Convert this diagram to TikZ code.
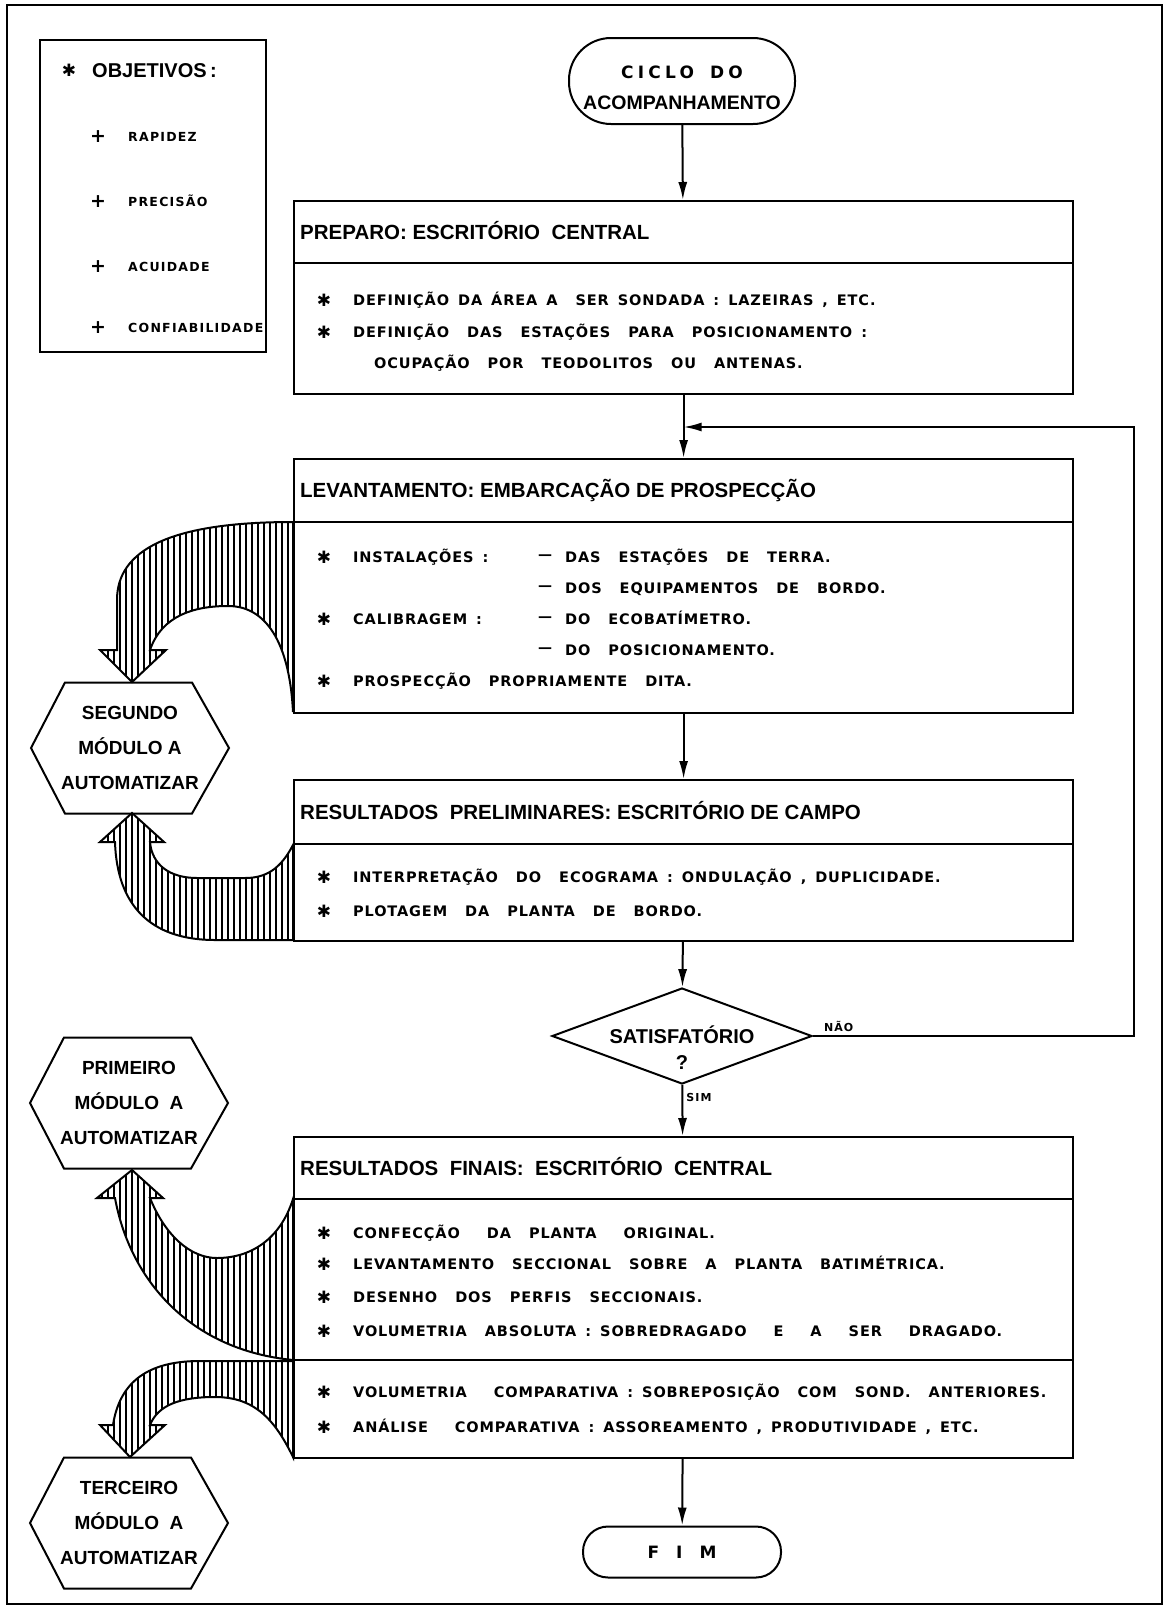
\documentclass[tikz,border=0pt]{standalone}
\usepackage{fontspec}
\setmainfont{Liberation Sans}
\newfontfamily\stencil[LetterSpace=6]{DejaVu Sans}
\newfontfamily\stencilsmall[LetterSpace=10]{DejaVu Sans}
\newfontfamily\stencilwide[LetterSpace=25]{DejaVu Sans}
\newfontfamily\dingfont{DejaVu Sans}
\usepackage{tikz}
\usetikzlibrary{shapes.geometric}
\usetikzlibrary{arrows.meta}
\usetikzlibrary{patterns.meta}
\usetikzlibrary{calc}

\tikzset{
  stagebox/.style={draw, line width=2.2pt, inner sep=0pt, anchor=north west, minimum width=779pt},
  stagetitle/.style={anchor=west, inner sep=0pt, text height=14.5pt, text depth=0pt, font=\fontsize{20.5}{24}\selectfont\bfseries},
  itemtext/.style={anchor=west, inner sep=0pt, text height=10.5pt, text depth=0pt, font=\fontsize{14.5}{16}\stencil\bfseries, execute at begin node={\spaceskip=9pt\relax}},
  bullet/.style={inner sep=0pt, font=\fontsize{17}{17}\dingfont},
  dashmark/.style={inner sep=0pt, font=\fontsize{14}{16}\stencil\bfseries},
  goalhead/.style={anchor=west, inner sep=0pt, text height=14pt, text depth=0pt, font=\fontsize{20}{24}\selectfont\bfseries},
  goalitem/.style={anchor=west, inner sep=0pt, text height=9.5pt, text depth=0pt, font=\fontsize{12.5}{14}\stencilsmall\bfseries},
  plusmark/.style={inner sep=0pt, font=\fontsize{19}{19}\stencil\bfseries},
  hexlabel/.style={align=center, inner sep=0pt, font=\fontsize{19}{35}\selectfont\bfseries},
  branchlabel/.style={inner sep=1pt, font=\fontsize{11}{13}\stencilsmall\bfseries},
  flow/.style={line width=2pt, -{Latex[length=18pt,width=9pt]}},
  hatched/.style={line width=2pt, pattern={Lines[angle=90,distance=6pt,line width=1.3pt]}},
  outline/.style={line width=2pt}
}

\begin{document}
\begin{tikzpicture}[x=1pt, y=-1pt]
\useasboundingbox (0,0) rectangle (1165,1609);
\draw[outline] (7,5) rectangle (1162,1604);

\def\hexw{99}
\def\hexh{65.5}
\def\hexcut{34}

\node[draw, outline, anchor=north west, minimum width=226pt, minimum height=312pt] (goals) at (39,39) {};
\node[bullet] (goalstar) at (69,70) {✱};
\node[goalhead] (goalhead) at (92,70) {OBJETIVOS\,:};
\node[plusmark] (plusA) at (98,137) {+};
\node[goalitem] (goalA) at (128,137) {RAPIDEZ};
\node[plusmark] (plusB) at (98,202) {+};
\node[goalitem] (goalB) at (128,202) {PRECISÃO};
\node[plusmark] (plusC) at (98,267) {+};
\node[goalitem] (goalC) at (128,267) {ACUIDADE};
\node[plusmark] (plusD) at (98,328) {+};
\node[goalitem] (goalD) at (128,328) {CONFIABILIDADE};

\node[draw, outline, rounded corners=42pt, minimum width=226pt, minimum height=86pt] (start) at (682,81) {};
\node[inner sep=0pt, font=\fontsize{17}{20}\stencilwide\bfseries] (startA) at (682,72) {CICLO\hspace{16pt}DO};
\node[inner sep=0pt, font=\fontsize{19.5}{22}\selectfont\bfseries] (startB) at (682,103) {ACOMPANHAMENTO};

\node[stagebox, minimum height=193pt] (prep) at (293,200) {};
\draw[outline] (293,263) -- (1072,263);
\node[stagetitle] (preptitle) at (300,232) {PREPARO: ESCRITÓRIO\ \ CENTRAL};
\node[bullet] (prepstarA) at (324,300) {✱};
\node[itemtext] (prepA) at (353,300) {DEFINIÇÃO DA ÁREA A\ \ SER SONDADA : LAZEIRAS , ETC.};
\node[bullet] (prepstarB) at (324,332) {✱};
\node[itemtext] (prepB) at (353,332) {DEFINIÇÃO\ \ DAS\ \ ESTAÇÕES\ \ PARA\ \ POSICIONAMENTO :};
\node[itemtext] (prepC) at (374,363) {OCUPAÇÃO\ \ POR\ \ TEODOLITOS\ \ OU\ \ ANTENAS.};

\node[stagebox, minimum height=254pt] (lev) at (293,458) {};
\draw[outline] (293,522) -- (1072,522);
\node[stagetitle] (levtitle) at (300,490) {LEVANTAMENTO: EMBARCAÇÃO DE PROSPECÇÃO};
\node[bullet] (levstarA) at (324,557) {✱};
\node[itemtext] (levA) at (353,557) {INSTALAÇÕES :};
\node[dashmark] (levdashA) at (545,557) {—};
\node[itemtext] (levA2) at (565,557) {DAS\ \ ESTAÇÕES\ \ DE\ \ TERRA.};
\node[dashmark] (levdashB) at (545,588) {—};
\node[itemtext] (levB) at (565,588) {DOS\ \ EQUIPAMENTOS\ \ DE\ \ BORDO.};
\node[bullet] (levstarC) at (324,619) {✱};
\node[itemtext] (levC) at (353,619) {CALIBRAGEM :};
\node[dashmark] (levdashC) at (545,619) {—};
\node[itemtext] (levC2) at (565,619) {DO\ \ ECOBATÍMETRO.};
\node[dashmark] (levdashD) at (545,650) {—};
\node[itemtext] (levD) at (565,650) {DO\ \ POSICIONAMENTO.};
\node[bullet] (levstarE) at (324,681) {✱};
\node[itemtext] (levE) at (353,681) {PROSPECÇÃO\ \ PROPRIAMENTE\ \ DITA.};

\node[stagebox, minimum height=161pt] (pre) at (293,779) {};
\draw[outline] (293,844) -- (1072,844);
\node[stagetitle] (pretitle) at (300,812) {RESULTADOS\ \ PRELIMINARES: ESCRITÓRIO DE CAMPO};
\node[bullet] (prestarA) at (324,877) {✱};
\node[itemtext] (preA) at (353,877) {INTERPRETAÇÃO\ \ DO\ \ ECOGRAMA : ONDULAÇÃO , DUPLICIDADE.};
\node[bullet] (prestarB) at (324,911) {✱};
\node[itemtext] (preB) at (353,911) {PLOTAGEM\ \ DA\ \ PLANTA\ \ DE\ \ BORDO.};

\node[draw, diamond, outline, minimum width=260pt, minimum height=96pt, inner sep=0pt] (sat) at (682,1036) {};
\node[inner sep=0pt, text height=14.5pt, text depth=0pt, font=\fontsize{20}{24}\selectfont\bfseries] (satlabel) at (682,1036) {SATISFATÓRIO};
\node[inner sep=0pt, font=\fontsize{20}{24}\selectfont\bfseries] (satmark) at (682,1063) {?};

\node[stagebox, minimum height=321pt] (fin) at (293,1136) {};
\draw[outline] (293,1199) -- (1072,1199);
\draw[outline] (293,1360) -- (1072,1360);
\node[stagetitle] (fintitle) at (300,1168) {RESULTADOS\ \ FINAIS:\ \ ESCRITÓRIO\ \ CENTRAL};
\node[bullet] (finstarA) at (324,1233) {✱};
\node[itemtext] (finA) at (353,1233) {CONFECÇÃO\ \ \ DA\ \ PLANTA\ \ \ ORIGINAL.};
\node[bullet] (finstarB) at (324,1264) {✱};
\node[itemtext] (finB) at (353,1264) {LEVANTAMENTO\ \ SECCIONAL\ \ SOBRE\ \ A\ \ PLANTA\ \ BATIMÉTRICA.};
\node[bullet] (finstarC) at (324,1297) {✱};
\node[itemtext] (finC) at (353,1297) {DESENHO\ \ DOS\ \ PERFIS\ \ SECCIONAIS.};
\node[bullet] (finstarD) at (324,1331) {✱};
\node[itemtext] (finD) at (353,1331) {VOLUMETRIA\ \ ABSOLUTA : SOBREDRAGADO\ \ \ E\ \ \ A\ \ \ SER\ \ \ DRAGADO.};
\node[bullet] (finstarE) at (324,1392) {✱};
\node[itemtext] (finE) at (353,1392) {VOLUMETRIA\ \ \ COMPARATIVA : SOBREPOSIÇÃO\ \ COM\ \ SOND.\ \ ANTERIORES.};
\node[bullet] (finstarF) at (324,1427) {✱};
\node[itemtext] (finF) at (353,1427) {ANÁLISE\ \ \ COMPARATIVA : ASSOREAMENTO , PRODUTIVIDADE , ETC.};

\node[draw, outline, rounded corners=25pt, minimum width=198pt, minimum height=51pt, font=\fontsize{17}{20}\stencil\bfseries] (fim) at (682,1552) {F\hspace{17pt}I\hspace{17pt}M};

\node[hexlabel] (segundo) at (130,748) {SEGUNDO\\MÓDULO A\\AUTOMATIZAR};
\draw[outline] (segundo.center) ++(-\hexw,0) -- ++(\hexcut,-\hexh) -- ++(127,0) -- ++(37,\hexh) -- ++(-37,\hexh) -- ++(-127,0) -- cycle;
\node[hexlabel] (primeiro) at (129,1103) {PRIMEIRO\\MÓDULO\ \ A\\AUTOMATIZAR};
\draw[outline] (primeiro.center) ++(-\hexw,0) -- ++(\hexcut,-\hexh) -- ++(127,0) -- ++(37,\hexh) -- ++(-37,\hexh) -- ++(-127,0) -- cycle;
\node[hexlabel] (terceiro) at (129,1523) {TERCEIRO\\MÓDULO\ \ A\\AUTOMATIZAR};
\draw[outline] (terceiro.center) ++(-\hexw,0) -- ++(\hexcut,-\hexh) -- ++(127,0) -- ++(37,\hexh) -- ++(-37,\hexh) -- ++(-127,0) -- cycle;

\draw[hatched] (293,522) .. controls (170,522) and (117,550) .. (117,600) -- (117,650) -- (100,650) -- (132,682) -- (166,650) -- (150,650) .. controls (162,615) and (195,606) .. (228,606) .. controls (270,606) and (290,650) .. (293,712) -- cycle;
\draw[hatched] (293,845) .. controls (280,870) and (265,878) .. (245,878) -- (197,878) .. controls (170,878) and (152,865) .. (150,842) -- (164,842) -- (132,813) -- (100,842) -- (115,842) .. controls (117,905) and (150,940) .. (215,940) -- (293,940) -- cycle;
\draw[hatched] (293,1199) .. controls (280,1240) and (250,1258) .. (217,1258) .. controls (190,1258) and (165,1235) .. (150,1198) -- (163,1198) -- (132,1170) -- (97,1198) -- (115,1198) .. controls (130,1280) and (190,1350) .. (293,1360) -- cycle;
\draw[hatched] (293,1361) -- (200,1361) .. controls (150,1361) and (120,1380) .. (113,1425) -- (100,1425) -- (130,1457) -- (165,1425) -- (150,1425) .. controls (158,1405) and (180,1397) .. (215,1397) .. controls (255,1397) and (275,1420) .. (293,1457) -- cycle;

\coordinate (loopcorner) at (1134,427);
\draw[flow] (start) -- (prep);
\draw[flow] (prep) -- (lev);
\draw[flow] (lev) -- (pre);
\draw[flow] (pre) -- (sat);
\draw[flow] (sat) -- node[pos=0.25, right=2pt, branchlabel] (sim) {SIM} (fin);
\draw[flow] (fin) -- (fim);
\draw[flow] (sat.east) -- node[pos=0.08, above=2pt, branchlabel] (nao) {NÃO} (sat.east -| loopcorner) -- (loopcorner) -- (loopcorner -| lev.north);
\end{tikzpicture}
\end{document}
